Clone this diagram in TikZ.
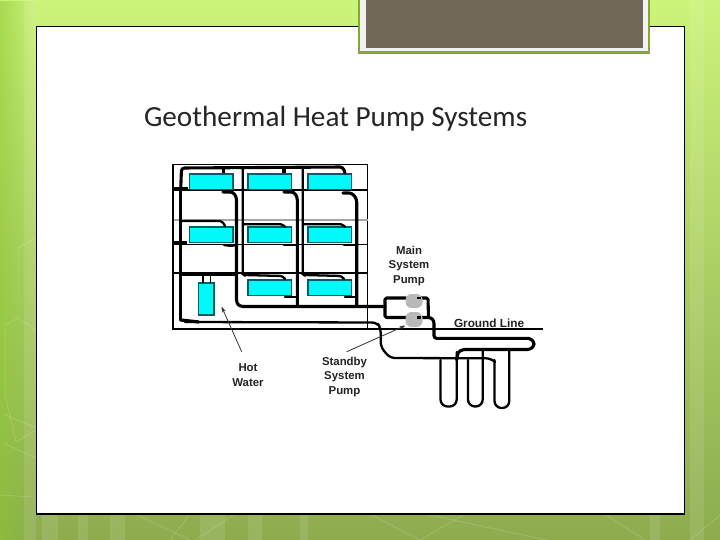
\documentclass[tikz,border=0pt]{standalone}
\usepackage{fontspec}
\setmainfont{Liberation Sans}
\newfontfamily\titlefont{Carlito}
\usetikzlibrary{arrows.meta,fadings}
\definecolor{bgtop}{RGB}{204,243,122}
\definecolor{bgmid}{RGB}{176,214,104}
\definecolor{bgbot}{RGB}{140,172,78}
\definecolor{bgedge}{RGB}{140,200,50}
\definecolor{framegreen}{RGB}{134,168,47}
\definecolor{brownbox}{RGB}{113,104,87}
\definecolor{radcyan}{RGB}{0,250,250}
\definecolor{radedge}{RGB}{0,95,100}
\definecolor{pumpgray}{RGB}{185,185,185}
\definecolor{labelgray}{RGB}{35,35,35}
\tikzset{
  x=1pt,y=-1pt,
  every node/.style={outer sep=0pt},
  pipe/.style={line width=3.1pt,black,line join=round,line cap=round,rounded corners=3pt},
  thinpipe/.style={line width=2.3pt,black,line join=round,line cap=round,rounded corners=3pt},
  gridline/.style={line width=1.2pt,black},
  radiator/.style={draw=radedge,line width=1.2pt,fill=radcyan},
  pumpshape/.style={draw=none,fill=pumpgray},
  leader/.style={line width=.8pt,black!80,-{Stealth[length=6pt,width=4pt]}},
  lbl/.style={font=\fontsize{11.4}{14.4}\selectfont\bfseries,text=labelgray,align=center,inner sep=0pt},
  deco/.style={line width=.9pt,white,opacity=.15},
  strip/.style={fill=white,opacity=.1,draw=none}
}
\begin{document}
\begin{tikzpicture}
\useasboundingbox (0,0) rectangle (720,540);
% background
\shade[top color=bgtop,middle color=bgmid,bottom color=bgbot] (0,0) rectangle (720,540);
\fill[bgedge,opacity=.55,path fading=east] (0,0) rectangle (36,540);
\foreach \xa/\xb in {42/58,78/88,110/125,200/225,248/262,300/308,650/660}{
  \fill[strip] (\xa,514) rectangle (\xb,540);}
\fill[strip] (690,0) rectangle (704,540);
\fill[strip] (24,0) rectangle (36,540);
\draw[deco] (36,238) -- (18,248) -- (18,318) (36,330) -- (18,318) -- (5,325) -- (5,395) -- (16,442) -- (36,430);
\draw[deco] (5,415) -- (36,428) (5,444) -- (36,458);
\draw[deco] (0,495) -- (33,497);
\draw[deco] (135,514) -- (190,540) (190,514) -- (170,540);
\draw[deco] (235,514) -- (195,540) (370,514) -- (420,540) (465,514) -- (420,540);
\draw[deco] (425,514) -- (640,560);
\draw[deco] (605,514) -- (645,540) (720,515) -- (690,540);
% slide
\node[draw=black,line width=1.2pt,fill=white,minimum width=648pt,minimum height=487.5pt,inner sep=0pt,anchor=north west] (slide) at (36.5,26.5) {};
\node[draw=framegreen,line width=2.2pt,fill=white!95!black,minimum width=290pt,minimum height=70pt,inner sep=0pt,anchor=south west] (topbox) at (359,52.5) {};
\node[fill=brownbox,minimum width=277pt,minimum height=60pt,inner sep=0pt,anchor=south west] (topfill) at (366,48.3) {};
\node[font=\titlefont\fontsize{29.2}{34}\selectfont,text=black!85,inner sep=0pt,anchor=west] (title) at (144,118.5) {Geothermal Heat Pump Systems};
% grid
\draw[gridline,line width=1.5pt] (172.7,164.3) -- (367.5,164.3);
\draw[gridline] (367.5,164.3) -- (367.5,329.2);
\draw[gridline] (172.7,190) -- (367.5,190);
\draw[gridline,gray!70] (172.7,220) -- (367.5,220);
\draw[gridline] (172.7,244.3) -- (367.5,244.3);
\draw[gridline] (172.7,273) -- (367.5,273);
\draw[gridline,line width=1.7pt] (172.7,164.3) -- (172.7,329.2) -- (542.7,329.2);
% radiators
\foreach \xa/\ya/\n in {189.5/174/a,248/174/b,308/174/c,189.5/227/d,248/227/e,308/227/f,248/280/g,308/280/h}{
  \node[radiator,minimum width=43.5pt,minimum height=15.5pt,inner sep=0pt,anchor=north west] (rad\n) at (\xa,\ya) {};}
\node[radiator,minimum width=15.5pt,minimum height=32pt,inner sep=0pt,anchor=north west] (tank) at (198.5,283) {};
% supply pipes
\draw[pipe] (180.7,190) -- (181.5,168) -- (343,167) -- (345,173);
\draw[pipe] (180.7,190) -- (180.7,320);
\draw[pipe,line width=3.6pt,line cap=butt] (173,189) -- (188,189);
\draw[pipe,line width=3.6pt,line cap=butt] (173,243) -- (187,243);
\draw[pipe,line cap=butt] (223.5,168) -- (223.5,173);
\draw[pipe,line cap=butt] (284,168) -- (284,173);
\draw[thinpipe] (242.7,167) -- (242.7,274) -- (244,275) -- (283,276) -- (285,279);
\draw[thinpipe] (302.7,167) -- (302.7,274) -- (304,275) -- (342,276) -- (344,279);
\draw[thinpipe,rounded corners=2pt] (181,221) -- (222,221) -- (225,226);
\draw[thinpipe,rounded corners=2pt] (243,224.3) -- (283,224.3) -- (285,227);
\draw[thinpipe,rounded corners=2pt] (303,224.3) -- (343,224.3) -- (345,227);
\draw[line width=4pt] (181,274) -- (235,274);
\draw[line width=2.6pt] (203,274) -- (203,283);
\draw[line width=1.4pt] (210.5,274) -- (210.5,283);
% returns
\draw[pipe] (223,192) -- (233,192) -- (236.5,197) -- (236.5,303) -- (240,306.5) -- (385,306.5);
\draw[pipe] (284,192) -- (294,192) -- (297.3,197) -- (297.3,306);
\draw[pipe] (343,193) -- (352,193) -- (356.7,199) -- (356.7,306);
\draw[thinpipe] (224,245) -- (232,246) -- (236,245);
\draw[thinpipe] (284,245) -- (297,245);
\draw[thinpipe] (344,245) -- (356,245);
\draw[thinpipe] (285,296.7) -- (297,296.7);
\draw[thinpipe] (345,296.7) -- (356,296.7);
% loop around pumps
\coordinate (mw) at (406,298);
\coordinate (me) at (421,298);
\coordinate (sw) at (406,317.5);
\coordinate (se) at (421,317.5);
\draw[pipe,rounded corners=1.5pt] (mw) -- (385,298) -- (385,317.5) -- (sw);
\draw[pipe,rounded corners=1.5pt] (me) -- (428,298) -- (428.5,317.5);
\draw[pipe,rounded corners=2.5pt] (se) -- (431,317.5) -- (434,321) -- (434,338.3) -- (530,338.3) -- (534,342) -- (534,346) -- (530,349.5) -- (463,349.5) -- (458,352) -- (456.7,360);
% pumps
\node[pumpshape,minimum width=17pt,minimum height=14pt,inner sep=0pt,rounded corners=6pt] (mainpump) at (414,301) {};
\node[pumpshape,minimum width=17pt,minimum height=15pt,inner sep=0pt,rounded corners=6pt] (standby) at (414,319.5) {};
\draw[thinpipe,line cap=butt] (mainpump.center) ++(3,-3) -- (me);
\draw[thinpipe,line cap=butt] (standby.center) ++(3,-2) -- (se);
% supply return to left
\draw[line width=3.2pt] (180.7,320) -- (199,322);
\draw[thinpipe,rounded corners=5pt] (185,322) -- (377,322.5) -- (380.7,328) -- (380.7,347) -- (390,358) -- (491,358.3) -- (495,362);
% ground loops
\draw[thinpipe,rounded corners=7pt] (440.5,360) -- (440.5,406.5) -- (456.7,406.5) -- (456.7,352);
\draw[thinpipe,rounded corners=7pt] (468,360) -- (468,406.5) -- (482.7,406.5) -- (482.7,350);
\draw[thinpipe,rounded corners=7pt] (494.5,360) -- (494.5,408) -- (509.3,408) -- (509.3,350);
% labels
\node[lbl] (lmain) at (409,266) {Main\\System\\Pump};
\node[lbl,anchor=west,font=\fontsize{11.8}{14.4}\selectfont\bfseries] (lground) at (454,323) {Ground Line};
\node[lbl] (lstandby) at (344.5,377) {Standby\\System\\Pump};
\node[lbl] (lhot) at (248,375) {Hot\\Water};
\coordinate (hotend) at (241.7,351.7);
\coordinate (hottip) at (221.5,306.5);
\coordinate (stbend) at (346.7,351.7);
\coordinate (stbtip) at (405.5,325.5);
\draw[leader] (hotend) -- (hottip);
\draw[leader] (stbend) -- (stbtip);
\end{tikzpicture}
\end{document}
